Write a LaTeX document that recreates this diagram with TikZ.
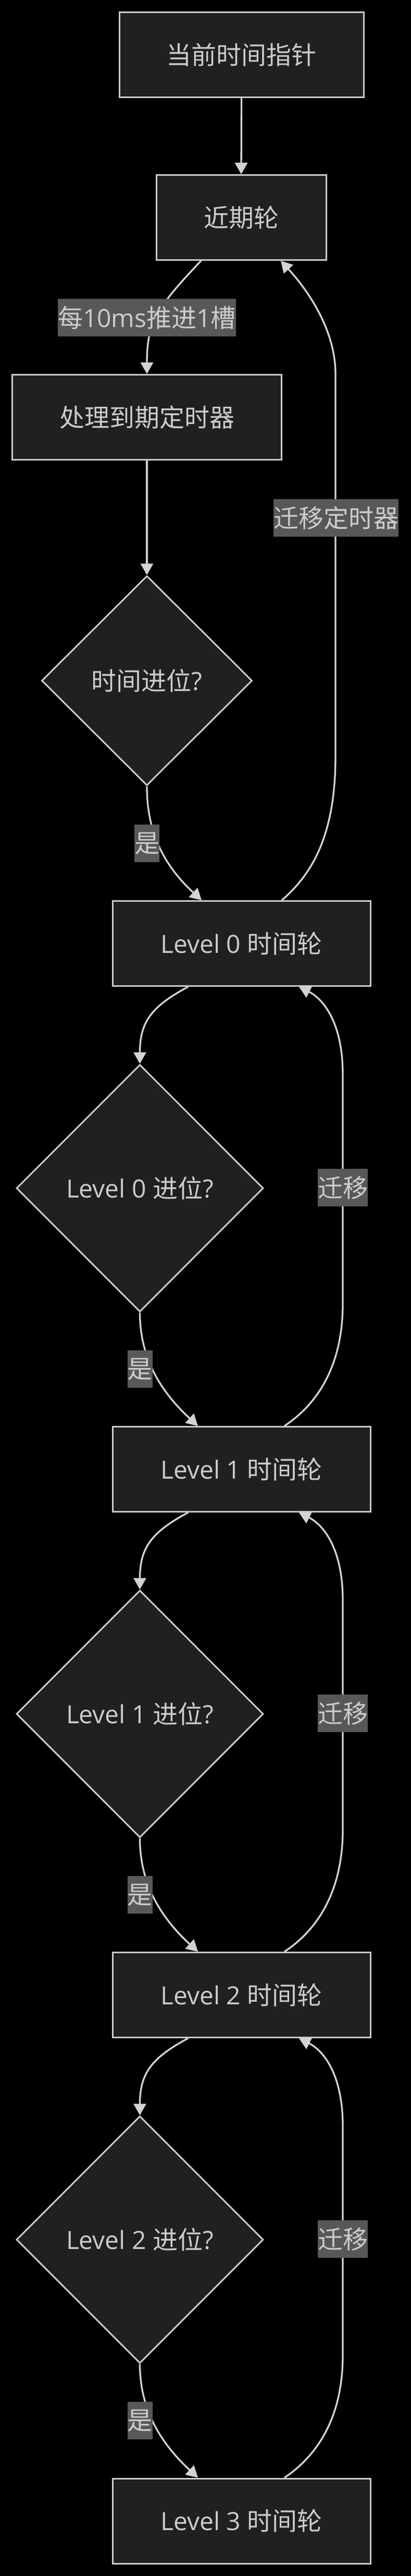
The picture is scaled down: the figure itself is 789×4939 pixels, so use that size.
\documentclass[tikz,border=0pt]{standalone}
\usepackage{fontspec}
\setmainfont{Open Sans}
\newfontfamily\cjk{Noto Sans CJK SC}
\usetikzlibrary{shapes.geometric,arrows.meta}
\definecolor{nodefill}{HTML}{1F2020}
\definecolor{bord}{HTML}{CCCCCC}
\definecolor{txt}{HTML}{CCCCCC}
\definecolor{edgec}{HTML}{D3D3D3}
\definecolor{lblbg}{HTML}{585858}
\newcommand{\zh}[1]{{\cjk #1}}
\begin{document}
\begin{tikzpicture}[x=1pt,y=-1pt,
  every node/.style={font=\fontsize{48pt}{58pt}\selectfont, text=txt},
  box/.style={rectangle, draw=bord, fill=nodefill, line width=3pt, inner sep=0pt, minimum height=163pt},
  dia/.style={diamond, aspect=1, draw=bord, fill=nodefill, line width=3pt, inner sep=0pt},
  elbl/.style={fill=lblbg, inner xsep=0pt, inner ysep=0pt, minimum height=72pt},
  conn/.style={draw=edgec, line width=3.3pt, -{Triangle[length=22pt,width=24pt]}}]
\fill[black] (0,0) rectangle (789,4939);
\useasboundingbox (0,0) rectangle (789,4939);

% nodes
\node[box, minimum width=469pt] (ptr) at (463.5,105) {\zh{当前时间指针}};
\node[box, minimum width=326pt] (near) at (463,417) {\zh{近期轮}};
\node[box, minimum width=517pt] (proc) at (282,800) {\zh{处理到期定时器}};
\node[dia, minimum width=404pt, minimum height=402pt] (carry) at (282,1305) {\zh{时间进位}?};
\node[box, minimum width=495pt] (L0) at (463.5,1809) {Level 0 \zh{时间轮}};
\node[dia, minimum width=474pt, minimum height=474pt] (D0) at (268.5,2278) {Level 0 \zh{进位}?};
\node[box, minimum width=495pt] (L1) at (463.5,2817) {Level 1 \zh{时间轮}};
\node[dia, minimum width=474pt, minimum height=474pt] (D1) at (268.5,3286) {Level 1 \zh{进位}?};
\node[box, minimum width=495pt] (L2) at (463.5,3825) {Level 2 \zh{时间轮}};
\node[dia, minimum width=474pt, minimum height=474pt] (D2) at (268.5,4294) {Level 2 \zh{进位}?};
\node[box, minimum width=495pt] (L3) at (463.5,4833.5) {Level 3 \zh{时间轮}};

% connectors
\draw[conn] (ptr.south) -- (near.north);
\draw[conn] ([xshift=-77pt]near.south) .. controls (300,590) and (282,620) .. (proc.north);
\draw[conn] (proc.south) -- (carry.north);
\draw[conn] (carry.south) .. controls (282,1590) and (310,1655) .. ([xshift=-76.5pt]L0.north);
\draw[conn] ([xshift=77.5pt]L0.north) .. controls (600,1675) and (644,1600) .. (644,1450)
   -- (644,717) .. controls (644,620) and (574,538) .. ([xshift=76pt]near.south);

% level 0 -> 1
\draw[conn] ([xshift=-102.5pt]L0.south) .. controls (290,1930) and (268.5,1960) .. (D0.north);
\draw[conn] (D0.south) .. controls (268.5,2600) and (305,2665) .. ([xshift=-83.5pt]L1.north);
\draw[conn] ([xshift=82.5pt]L1.north) .. controls (590,2705) and (658,2640) .. (658,2500)
   -- (658,2060) .. controls (658,1960) and (620,1915) .. ([xshift=110.5pt]L0.south);
% level 1 -> 2
\draw[conn] ([xshift=-102.5pt]L1.south) .. controls (290,2938) and (268.5,2968) .. (D1.north);
\draw[conn] (D1.south) .. controls (268.5,3608) and (305,3673) .. ([xshift=-83.5pt]L2.north);
\draw[conn] ([xshift=82.5pt]L2.north) .. controls (590,3713) and (658,3648) .. (658,3508)
   -- (658,3068) .. controls (658,2968) and (620,2923) .. ([xshift=110.5pt]L1.south);
% level 2 -> 3
\draw[conn] ([xshift=-102.5pt]L2.south) .. controls (290,3946) and (268.5,3976) .. (D2.north);
\draw[conn] (D2.south) .. controls (268.5,4616) and (305,4681) .. ([xshift=-83.5pt]L3.north);
\draw[conn] ([xshift=82.5pt]L3.north) .. controls (590,4721) and (658,4656) .. (658,4516)
   -- (658,4076) .. controls (658,3976) and (620,3931) .. ([xshift=110.5pt]L2.south);

% edge labels
\node[elbl] (l1) at (282,609) {\zh{每}10ms\zh{推进}1\zh{槽}};
\node[elbl] (l2) at (282,1617) {\zh{是}};
\node[elbl] (l3) at (645,993) {\zh{迁移定时器}};
\node[elbl] (l4) at (658,2277) {\zh{迁移}};
\node[elbl] (l5) at (268.5,2625) {\zh{是}};
\node[elbl] (l6) at (658,3285) {\zh{迁移}};
\node[elbl] (l7) at (268.5,3633) {\zh{是}};
\node[elbl] (l8) at (658,4293) {\zh{迁移}};
\node[elbl] (l9) at (268.5,4641) {\zh{是}};
\end{tikzpicture}
\end{document}
